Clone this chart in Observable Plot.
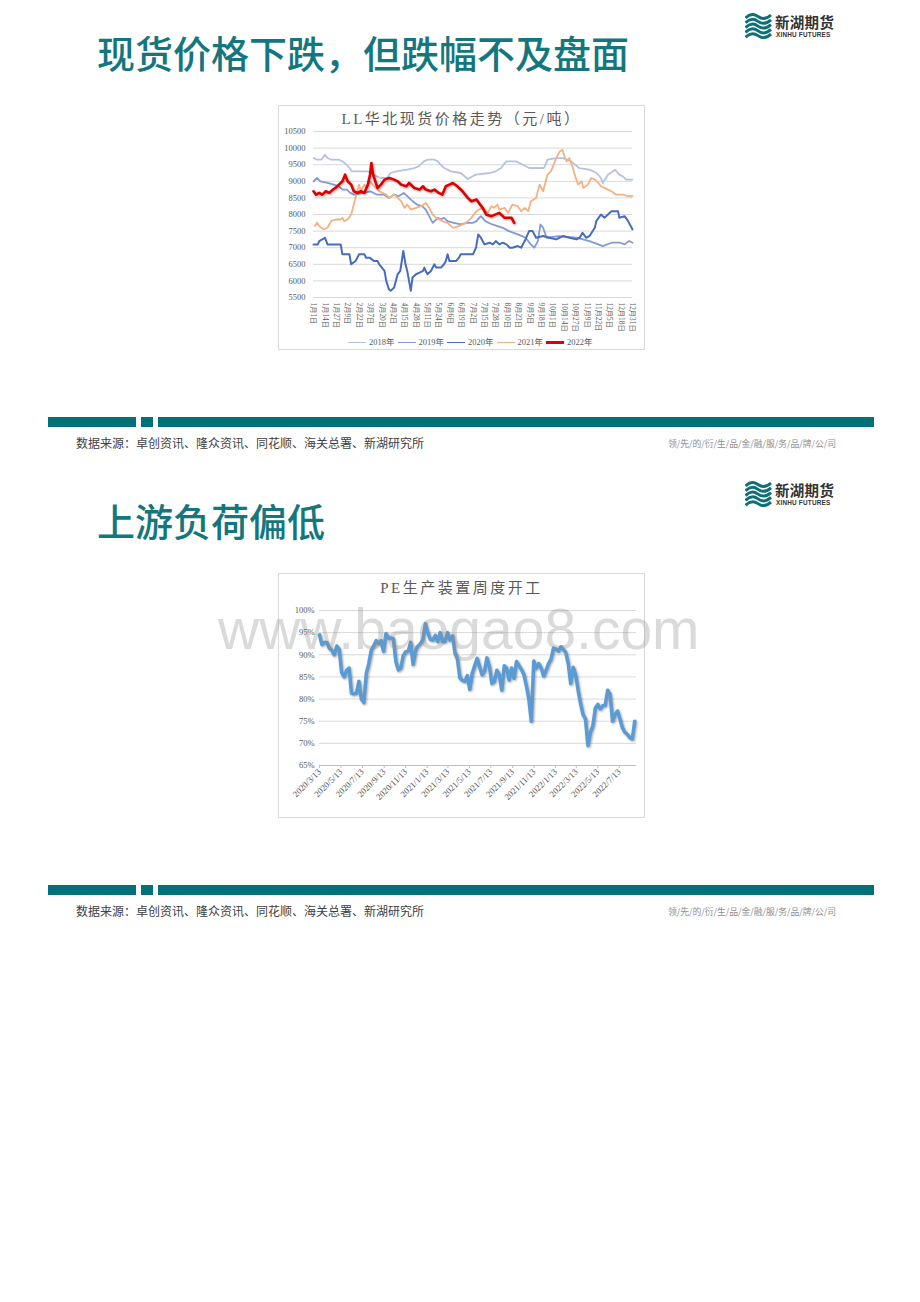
<!DOCTYPE html>
<html><head><meta charset="utf-8">
<script src="https://cdn.jsdelivr.net/npm/d3@7"></script>
<script src="https://cdn.jsdelivr.net/npm/@observablehq/plot@0.6"></script>
<style>
html,body{margin:0;padding:0;background:#fff;}
body{width:920px;height:1302px;position:relative;overflow:hidden;font-family:"Noto Sans CJK SC",sans-serif;}
.abs{position:absolute;}
.title{font-size:38px;color:#14777e;font-weight:500;line-height:1;white-space:nowrap;}
.bar{background:#007179;height:10px;}
.src{font-family:"Liberation Serif","Noto Sans CJK SC",serif;font-size:12px;line-height:1;color:#404040;white-space:nowrap;}
.slogan{font-size:8.8px;line-height:1;color:#8c8c8c;white-space:nowrap;}
.box{border:1px solid #d9d9d9;box-sizing:border-box;background:#fff;}
.ctitle{font-family:"Liberation Serif","Noto Sans CJK SC",serif;font-size:15px;letter-spacing:2.5px;color:#595959;white-space:nowrap;line-height:1;text-align:center;}
.legend{font-family:"Liberation Serif","Noto Sans CJK SC",serif;font-size:8.5px;color:#595959;display:flex;align-items:center;white-space:nowrap;line-height:1;}
.legend .it{display:flex;align-items:center;margin-right:3px;}
.legend .sw{display:inline-block;width:18px;margin-right:3px;}
.c1 g[aria-label^="x-axis"] text{font-size:7.3px;}
.c2 g[aria-label^="x-axis"] text{font-size:8.8px;}
.c2 g[aria-label="x-axis tick"] path{stroke:#bfbfbf;}
g[stroke="#e00000"] path, g[stroke="#5b9bd5"] path{filter:drop-shadow(1.2px 1.8px 1.2px rgba(0,0,0,0.35));}
.wm{font-family:"Liberation Sans",Arial,sans-serif;font-size:57px;color:rgba(140,140,140,0.32);line-height:1;white-space:nowrap;pointer-events:none;z-index:10;}
.logo-t{font-size:14.5px;font-weight:700;color:#333;line-height:1;letter-spacing:0.3px;white-space:nowrap;}
.logo-e{font-family:"Liberation Sans",Arial,sans-serif;font-size:6.4px;font-weight:700;color:#333;line-height:1;white-space:nowrap;letter-spacing:0.2px;}
</style>
</head><body>
<script>
// ---------- Data: chart 1 (LL华北现货价格走势, [day of year, 元/吨]) ----------
const dayLabels = ["1月1日","1月14日","1月27日","2月9日","2月22日","3月7日","3月20日","4月2日","4月15日","4月28日","5月11日","5月24日","6月6日","6月19日","7月2日","7月15日","7月28日","8月10日","8月23日","9月5日","9月18日","10月1日","10月14日","10月27日","11月9日","11月22日","12月5日","12月18日","12月31日"];
const yTicks1 = [5500,6000,6500,7000,7500,8000,8500,9000,9500,10000,10500];
const seriesNames = ["2018年","2019年","2020年","2021年","2022年"];
const s2018 = [[0,9700],[4,9650],[9,9650],[13,9800],[16,9700],[20,9650],[29,9650],[33,9600],[38,9500],[41,9400],[44,9300],[54,9300],[62,9300],[66,9250],[72,9150],[77,9100],[84,9100],[88,9250],[95,9300],[107,9350],[115,9400],[120,9450],[126,9600],[130,9650],[138,9650],[142,9600],[145,9500],[149,9400],[157,9300],[168,9250],[176,9070],[185,9200],[201,9250],[208,9300],[214,9400],[220,9600],[231,9600],[239,9500],[246,9400],[263,9400],[267,9650],[277,9700],[285,9700],[294,9600],[303,9400],[315,9350],[323,9250],[328,9100],[330,8950],[336,9200],[344,9350],[349,9200],[353,9150],[357,9050],[364,9050]];
const s2019 = [[0,9000],[4,9100],[8,9000],[16,8950],[23,8900],[29,8850],[33,8750],[38,8750],[42,8650],[46,8600],[57,8650],[65,8700],[72,8600],[80,8600],[86,8500],[92,8600],[97,8550],[103,8650],[109,8500],[113,8400],[118,8300],[124,8250],[128,8150],[132,7950],[136,7750],[140,7850],[142,7900],[145,7850],[149,7900],[153,7800],[160,7750],[168,7700],[175,7750],[182,7750],[186,7800],[189,7900],[191,7950],[196,7800],[204,7700],[216,7600],[223,7500],[233,7400],[238,7350],[242,7300],[248,7100],[252,7000],[256,7200],[259,7700],[262,7600],[266,7300],[280,7350],[300,7300],[315,7200],[325,7100],[330,7050],[340,7150],[350,7150],[355,7100],[360,7200],[364,7150]];
const s2020 = [[0,7100],[5,7100],[6.5,7200],[10,7250],[13,7300],[16,7100],[31,7100],[33,6800],[41,6800],[43,6500],[48,6600],[52,6800],[58,6800],[60,6700],[64,6700],[69,6600],[73,6600],[75,6500],[81,6300],[83,6000],[86,5750],[88,5700],[92,5800],[96,6200],[99,6300],[102.5,6900],[105,6500],[107,6300],[111,5700],[113,6100],[117,6200],[121,6250],[125,6300],[126.5,6400],[128,6300],[130,6200],[134,6300],[138,6500],[140,6400],[145.5,6400],[149,6500],[151,6600],[153,6800],[155,6600],[163,6600],[166,6700],[168,6800],[182,6800],[185.5,7000],[188,7400],[191,7300],[195,7100],[201,7150],[204.6,7100],[208,7200],[212,7100],[216,7150],[220,7100],[224,7000],[227,7000],[233,7050],[237,7000],[241,7200],[243.5,7350],[246,7500],[250,7500],[254,7300],[262,7350],[269,7300],[277,7250],[284.6,7350],[292,7300],[300,7250],[303.7,7300],[307,7450],[311,7300],[315,7350],[321,7600],[322.7,7800],[328,8000],[332,7900],[336,8000],[340,8100],[347.5,8100],[349,7900],[355,7950],[359,7800],[364,7550]];
const s2021 = [[1.5,7650],[4,7750],[6.5,7650],[12,7550],[16,7600],[20,7800],[25,7850],[31,7850],[33,7900],[35,7800],[39,7850],[43,8000],[46,8300],[49,8600],[52,8900],[54,8700],[58,8900],[60,8800],[64,9000],[67.5,8900],[71,8800],[75,8700],[83,8600],[86.5,8500],[92,8600],[100,8400],[104,8200],[107,8300],[111,8150],[117,8200],[123,8250],[128,8350],[132,8200],[136,8000],[140,7900],[147,7800],[153,7750],[159,7600],[166,7650],[174,7750],[180,7900],[186,8100],[189,8150],[193,8200],[199,8050],[203,8250],[206,8200],[210,8300],[212,8150],[218,8200],[222,8050],[227,8300],[233,8250],[237,8100],[241,8200],[245,8100],[248,8400],[254,8500],[258,8900],[262,8700],[267,9200],[271,9300],[277,9700],[281,9900],[284,9950],[287,9700],[289,9600],[292,9700],[296,9400],[298,9200],[302,8900],[306,9000],[308,8800],[313,8900],[317,9100],[321,9050],[325,8950],[328,8850],[336,8750],[340,8700],[345,8600],[353,8600],[359,8550],[364,8550]];
const s2022 = [[0,8700],[3,8600],[6.5,8650],[10,8600],[14,8700],[18,8650],[22,8750],[25,8800],[29,8900],[33,9000],[36,9200],[39,9000],[43,8900],[46,8700],[50,8650],[54,8700],[58,8650],[62,8900],[64.5,9200],[66,9550],[68,9200],[70.5,9000],[73,8800],[77,8900],[81,9050],[86.5,9100],[92,9050],[96,9000],[100,8900],[106,8850],[109,8950],[115,8800],[121,8750],[125,8850],[128,8750],[134,8700],[138,8750],[143,8650],[147,8600],[151,8850],[155,8900],[159,8950],[164,8850],[170,8700],[176,8500],[180,8400],[186,8450],[190,8300],[193,8200],[197,8000],[203,7950],[212,8050],[218,7900],[226,7900],[229,7750]];
const seriesColors = ["#b4c2e4","#8399d3","#456dbb","#f4b183","#e00000"];
const seriesWidths = [1.8,1.8,2,1.8,2.6];

// ---------- Data: chart 2 (PE生产装置周度开工, weekly %, from 2020/3/13) ----------
const peStart = "2020/3/13";
const peRate = [94.5,92.3,92.8,92.8,91.5,91,90,92,91.2,86,85,86.5,87,81.3,81.2,81.3,84,80,79.2,85.8,88,91,92,93.2,92.5,93.2,90.8,94.8,93.8,93.8,93.6,88.5,86.6,87,89.8,90.7,90.8,92.8,87.8,91,92,92.5,93.5,97,95,93.5,93.3,94.4,93,95,93,93,95,93.3,94.3,90.5,89,84.8,84.2,84,85.3,82.2,85.8,87.5,89.2,87.3,85.5,86.3,89.3,87.3,83.5,84,86.5,85.5,82,87.5,87,84.3,87,84.7,88.5,87.5,86.7,85.5,83,80,75,88.6,87,88,87,85.2,86.5,88,89,91.5,91.3,90.8,91.8,91.2,90.5,88,83.5,87.2,85.5,82,79,76.5,75.5,69.5,72.5,74,78,78.8,77.8,78.5,78.6,82,81,75,76.5,77.3,75.5,73.5,72.5,72,71.3,71,75];
const dateLabels2 = ["2020/3/13","2020/5/13","2020/7/13","2020/9/13","2020/11/13","2021/1/13","2021/3/13","2021/5/13","2021/7/13","2021/9/13","2021/11/13","2022/1/13","2022/3/13","2022/5/13","2022/7/13"];
const yTicks2 = [65,70,75,80,85,90,95,100];

// ---------- page text ----------
const pageTitles = ["现货价格下跌，但跌幅不及盘面","上游负荷偏低"];
const chartTitles = ["LL华北现货价格走势（元/吨）","PE生产装置周度开工"];
const sourceText = "数据来源：卓创资讯、隆众资讯、同花顺、海关总署、新湖研究所";
const sloganText = "领/先/的/衍/生/品/金/融/服/务/品/牌/公/司";
const watermark = "www.baogao8.com";

// ---------- helpers ----------
function el(tag, cls, css, html) {
  const e = document.createElement(tag);
  if (cls) e.className = cls;
  if (css) e.style.cssText = css;
  if (html != null) e.innerHTML = html;
  document.body.appendChild(e);
  return e;
}
function logo(top) {
  let paths = "";
  for (let i = 0; i < 5; i++) {
    const y = 3 + i * 4.8;
    paths += `<path d="M0.5,${y+2} C5,${y-2.5} 9,${y-2.5} 13,${y+0.5} S21,${y+3.5} 26,${y-1}" fill="none" stroke="#0f6f74" stroke-width="2.9"/>`;
  }
  el("div","abs",`left:745px;top:${top}px;width:27px;height:26px;`,`<svg width="27" height="26" viewBox="0 0 27 26">${paths}</svg>`);
  el("div","abs logo-t",`left:775px;top:${top+2}px;`,"新湖期货");
  el("div","abs logo-e",`left:776px;top:${top+18.5}px;`,"XINHU FUTURES");
}
function slide(offset, title) {
  logo(13 + offset);
  el("div","abs title",`left:97px;top:${33+offset}px;`,title);
  el("div","abs bar",`left:48px;top:${417+offset}px;width:88px;`);
  el("div","abs bar",`left:141px;top:${417+offset}px;width:12px;`);
  el("div","abs bar",`left:158px;top:${417+offset}px;width:716px;`);
  el("div","abs src",`left:76px;top:${438+offset}px;`,sourceText);
  el("div","abs slogan",`left:668px;top:${439.5+offset}px;`,sloganText);
  el("div","abs box",`left:278px;top:${105+offset}px;width:367px;height:245px;`);
}
slide(0, pageTitles[0]);
slide(468, pageTitles[1]);

// ---------- chart 1 ----------
const baseYear = Date.UTC(2021,0,1);
const tickDays = dayLabels.map(s => {
  const m = s.match(/(\d+)月(\d+)日/);
  return Math.round((Date.UTC(2021, +m[1]-1, +m[2]) - baseYear) / 864e5);
});
const labelByDay = new Map(tickDays.map((d,i) => [d, dayLabels[i]]));
const seriesPts = [s2018, s2019, s2020, s2021, s2022];

const plotStyle = {fontFamily:"'Liberation Serif','Noto Sans CJK SC',serif", fontSize:"8.5px", color:"#595959", background:"transparent", overflow:"visible"};

const chart1 = Plot.plot({
  width: 367, height: 212, marginTop: 7, marginBottom: 39, marginLeft: 35, marginRight: 13,
  style: plotStyle,
  x: {type:"linear", domain:[0,364], ticks: tickDays, tickFormat: d => labelByDay.get(d), tickRotate: 90, tickSize: 0, tickPadding: 5, label: null},
  y: {domain:[5500,10500], ticks: yTicks1, tickFormat: d => String(d), tickSize: 0, tickPadding: 8, label: null},
  marks: [
    Plot.ruleY(yTicks1, {stroke:"#d9d9d9", strokeWidth:1}),
    ...seriesPts.map((pts, i) => Plot.line(pts, {x: d => d[0], y: d => d[1], stroke: seriesColors[i], strokeWidth: seriesWidths[i]}))
  ]
});
const w1 = el("div","abs c1","left:278px;top:124px;width:367px;height:212px;z-index:2;");
w1.appendChild(chart1);
el("div","abs ctitle","left:278px;top:112px;width:367px;z-index:3;",chartTitles[0]);

const lg = el("div","abs legend","left:348px;top:338px;height:9px;z-index:3;");
lg.innerHTML = seriesNames.map((n,i) => `<span class="it"><span class="sw" style="height:${i===4?2.6:1.8}px;background:${seriesColors[i]}"></span>${n}</span>`).join("");

// ---------- chart 2 ----------
const parseYMD = s => { const [y,m,d] = s.split("/").map(Number); return new Date(Date.UTC(y, m-1, d)); };
const d0 = parseYMD(peStart);
const rows2 = peRate.map((v, i) => ({date: d3.utcDay.offset(d0, 7*i), rate: v}));
const tickDates2 = dateLabels2.map(parseYMD);
const dEnd = d3.utcDay.offset(rows2[rows2.length-1].date, 5);
const fmt2 = d => `${d.getUTCFullYear()}/${d.getUTCMonth()+1}/${d.getUTCDate()}`;

const chart2 = Plot.plot({
  width: 367, height: 215, marginTop: 10, marginBottom: 50, marginLeft: 41, marginRight: 9,
  style: plotStyle,
  x: {type:"utc", domain:[d0, dEnd], ticks: tickDates2, tickFormat: fmt2, tickRotate: -45, tickSize: 3, tickPadding: 2, label: null},
  y: {domain:[65,100], ticks: yTicks2, tickFormat: d => d + "%", tickSize: 0, tickPadding: 5, label: null},
  marks: [
    Plot.ruleY(yTicks2.filter(v => v > 65), {stroke:"#d9d9d9", strokeWidth:1}),
    Plot.ruleY([65], {stroke:"#bfbfbf", strokeWidth:1}),
    Plot.line(rows2, {x:"date", y:"rate", stroke:"#5b9bd5", strokeWidth:3.5})
  ]
});
const w2 = el("div","abs c2","left:278px;top:600px;width:367px;height:215px;z-index:2;");
w2.appendChild(chart2);
el("div","abs ctitle","left:278px;top:581px;width:367px;z-index:3;",chartTitles[1]);

el("div","abs wm","left:218px;top:601px;",watermark);
</script>
</body></html>
